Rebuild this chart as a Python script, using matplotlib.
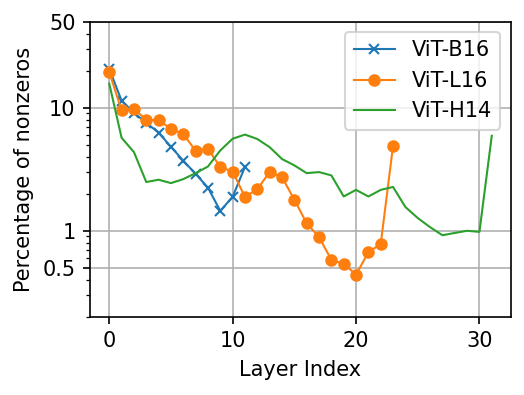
import numpy as np
import matplotlib
matplotlib.use("Agg")
import matplotlib.pyplot as plt
from matplotlib.ticker import FixedLocator, NullFormatter

# dane
vit_b16 = [20.7, 11.4, 9.1, 7.55, 6.26, 4.82, 3.71, 2.9, 2.24, 1.45, 1.89, 3.31]
vit_l16 = [19.5, 9.5, 9.8, 7.98, 7.9, 6.75, 6.11, 4.47, 4.62, 3.3, 3.03, 1.88,
           2.18, 3.0, 2.73, 1.79, 1.15, 0.89, 0.58, 0.54, 0.44, 0.67, 0.78, 4.91]
vit_h14 = [15.7, 5.7, 4.36, 2.49, 2.6, 2.44, 2.63, 2.94, 3.33, 4.5, 5.6, 6.05,
           5.57, 4.78, 3.83, 3.4, 2.94, 3.0, 2.82, 1.9, 2.15, 1.9, 2.15, 2.27,
           1.56, 1.27, 1.07, 0.92, 0.96, 1.0, 0.98, 5.92]
y_ticks = [0.5, 1, 10, 50]
y_tick_labels = ["0.5", "1", "10", "50"]

fig, ax = plt.subplots(figsize=(524 / 150, 395 / 150), dpi=150)

ax.plot(np.arange(len(vit_b16)), vit_b16, marker='x', markersize=5, lw=1, label='ViT-B16')
ax.plot(np.arange(len(vit_l16)), vit_l16, marker='o', markersize=5, lw=1, label='ViT-L16')
ax.plot(np.arange(len(vit_h14)), vit_h14, lw=1, label='ViT-H14')

ax.set_yscale('log')
ax.set_ylim(0.2, 50)
ax.set_yticks(y_ticks)
ax.set_yticklabels(y_tick_labels)
ax.yaxis.set_minor_formatter(NullFormatter())
ax.set_xticks([0, 10, 20, 30])
ax.grid(True, which='major', color='#b0b0b0')

ax.set_xlabel("Layer Index")
ax.set_ylabel("Percentage of nonzeros")
ax.legend(loc='upper right')

fig.subplots_adjust(left=0.172, right=0.975, top=0.945, bottom=0.198)
fig.savefig("out.png", dpi=150)
